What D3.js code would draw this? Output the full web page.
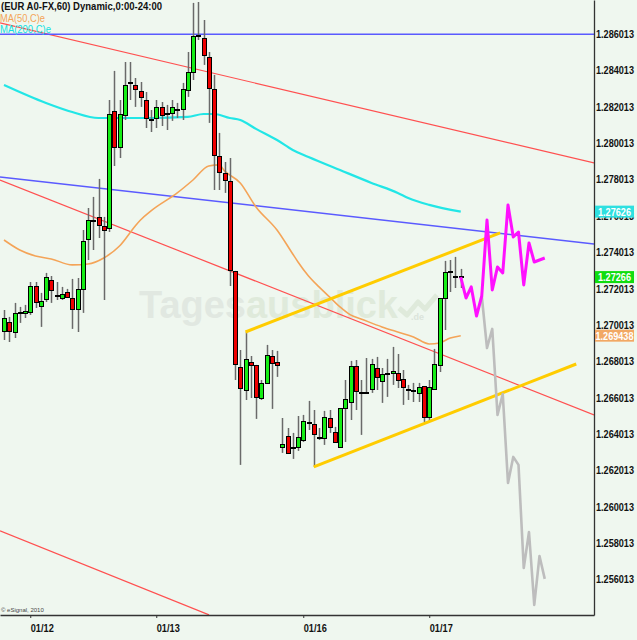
<!DOCTYPE html>
<html><head><meta charset="utf-8">
<script src="https://cdn.jsdelivr.net/npm/d3@7"></script>
<style>html,body{margin:0;padding:0;background:#eff7ef;}svg{display:block;}</style>
</head><body><div id="chart"></div>
<script>
// ---- data (hourly candles, index 0 = first visible bar) ----
const opens = [1.26970,1.27019,1.26964,1.27074,1.27069,1.27074,1.27217,1.27107,1.27146,1.27250,
1.27168,1.27151,1.27184,1.27151,1.27091,1.27201,1.27476,1.27580,1.27597,1.27547,
1.27536,1.28180,1.27982,1.28158,1.28339,1.28323,1.28290,1.28240,1.28138,1.28141,
1.28202,1.28169,1.28169,1.28191,1.28191,1.28295,1.28394,1.28598,1.28581,1.28477,
1.28301,1.27932,1.27839,1.27795,1.27300,1.26772,1.26645,1.26799,1.26783,1.26601,
1.26684,1.26832,1.26799,1.26332,1.26392,1.26332,1.26332,1.26370,1.26469,1.26458,
1.26387,1.26381,1.26491,1.26414,1.26332,1.26546,1.26579,1.26777,1.26634,1.26629,
1.26651,1.26766,1.26695,1.26739,1.26739,1.26739,1.26706,1.26651,1.26645,1.26629,
1.26667,1.26497,1.26651,1.26783,1.27151,1.27300,1.27272,1.27272];
const highs = [1.27085,1.27047,1.27124,1.27102,1.27113,1.27239,1.27239,1.27179,1.27289,1.27272,
1.27239,1.27212,1.27201,1.27256,1.27261,1.27525,1.27646,1.27707,1.27806,1.27597,
1.28240,1.28400,1.28240,1.28449,1.28449,1.28361,1.28339,1.28284,1.28185,1.28240,
1.28229,1.28213,1.28240,1.28224,1.28334,1.28504,1.28774,1.28779,1.28680,1.28504,
1.28378,1.28059,1.27899,1.27921,1.27300,1.26865,1.26964,1.26832,1.26783,1.26700,
1.26893,1.26865,1.26860,1.26491,1.26436,1.26409,1.26502,1.26508,1.26585,1.26535,
1.26436,1.26530,1.26535,1.26442,1.26546,1.26700,1.26805,1.26810,1.26700,1.26821,
1.26816,1.26827,1.26766,1.26816,1.26882,1.26843,1.26755,1.26673,1.26684,1.26684,
1.26667,1.26700,1.26871,1.27151,1.27355,1.27360,1.27377,1.27311];
const lows = [1.26920,1.26909,1.26931,1.27014,1.27041,1.27058,1.27096,1.26992,1.27129,1.27124,
1.27140,1.27140,1.27151,1.26981,1.26964,1.27069,1.27360,1.27415,1.27481,1.27140,
1.27514,1.27877,1.27921,1.28130,1.28240,1.28202,1.28202,1.28086,1.28064,1.28086,
1.28097,1.28075,1.28125,1.28141,1.28130,1.28257,1.28350,1.28570,1.28433,1.28114,
1.27745,1.27745,1.27729,1.27217,1.26700,1.26233,1.26590,1.26601,1.26486,1.26590,
1.26678,1.26541,1.26717,1.26299,1.26293,1.26266,1.26310,1.26359,1.26425,1.26222,
1.26370,1.26343,1.26409,1.26354,1.26326,1.26359,1.26480,1.26535,1.26398,1.26629,
1.26629,1.26645,1.26574,1.26607,1.26673,1.26656,1.26563,1.26590,1.26579,1.26579,
1.26469,1.26469,1.26645,1.26744,1.26975,1.27184,1.27206,1.27206];
const closes = [1.27041,1.26970,1.27069,1.27074,1.27080,1.27217,1.27129,1.27135,1.27267,1.27195,
1.27168,1.27173,1.27157,1.27091,1.27201,1.27465,1.27580,1.27580,1.27553,1.27525,
1.28163,1.27982,1.28163,1.28323,1.28339,1.28301,1.28257,1.28141,1.28138,1.28202,
1.28158,1.28169,1.28202,1.28191,1.28301,1.28394,1.28592,1.28598,1.28488,1.28306,
1.27938,1.27844,1.27800,1.27305,1.26788,1.26656,1.26816,1.26783,1.26607,1.26684,
1.26838,1.26794,1.26783,1.26348,1.26299,1.26332,1.26387,1.26475,1.26469,1.26403,
1.26387,1.26497,1.26442,1.26359,1.26546,1.26596,1.26777,1.26640,1.26634,1.26634,
1.26788,1.26717,1.26733,1.26739,1.26750,1.26700,1.26662,1.26651,1.26645,1.26662,
1.26497,1.26662,1.26788,1.27151,1.27294,1.27300,1.27267,1.27266];

// moving averages (sampled at bar indices)
const ma50Idx = [0,3,6,9,13,16,19,22,25,26,28,33,36,39,41,42,45,48,52,55,56,58,60,62,64,66,68,72,75,78,81,83,85,87];
const ma50Val = [1.27470,1.27415,1.27382,1.27366,1.27333,1.27338,1.27371,1.27437,1.27547,1.27580,1.27630,1.27729,1.27800,1.27877,1.27883,1.27850,1.27784,1.27652,1.27525,1.27393,1.27349,1.27272,1.27212,1.27157,1.27102,1.27058,1.27036,1.26992,1.26964,1.26937,1.26898,1.26904,1.26931,1.269438];
const ma200Idx = [0,8,13,18,23,28,35,38,40,43,45,48,52,55,58,64,70,75,77,81,87];
const ma200Val = [1.28323,1.28224,1.28174,1.28141,1.28141,1.28141,1.28147,1.28163,1.28163,1.28141,1.28130,1.28081,1.28020,1.27965,1.27927,1.27855,1.27784,1.27729,1.27701,1.27663,1.27626];

// forecast paths
const forecastUpStart = 87;
const forecastUp = [1.27266,1.27151,1.27212,1.27052,1.27162,1.27580,1.27195,1.27322,1.27289,1.27663,1.27487,1.27514,1.27223,1.27454,1.27349,1.27360,1.27371];
const forecastDownStart = 91;
const forecastDown = [1.27162,1.26876,1.26981,1.26508,1.26623,1.26134,1.26277,1.26233,1.25666,1.25864,1.25463,1.25732,1.25606];

// drawn lines [[index, price],[index, price]]
const blueLevel = [[-0.762,1.286013],[112.38,1.286013]];
const blueTrend = [[-0.762,1.27817],[112.38,1.27448]];
const redUpper = [[-0.762,1.28664],[112.38,1.27894]];
const redMiddle = [[-0.762,1.27800],[112.38,1.26508]];
const redLower = [[-0.762,1.25870],[39.05,1.25408]];
const yellowUpper = [[46,1.26964],[94.5,1.27509]];
const yellowLower = [[59,1.26222],[109,1.26788]];

// axes
const priceTicks = [1.256013,1.258013,1.260013,1.262013,1.264013,1.266013,1.268013,1.270013,1.272013,1.274013,1.276013,1.278013,1.280013,1.282013,1.284013,1.286013];
const dateIdx = [5,29,57,81];
const dateLabels = ["01/12","01/13","01/16","01/17"];
const lastMarkers = [1.27626, 1.27266, 1.269438];
const lastMarkerText = ["1.27626","1.27266","1.269438"];

// ---- drawing ----
const W = 637, H = 640, PW = 594, PH = 615;
const svg = d3.select('#chart').append('svg').attr('width', W).attr('height', H)
  .style('font-family', '"Liberation Sans", Arial, sans-serif');
svg.append('rect').attr('width', W).attr('height', H).attr('fill', '#eff7ef');

const x = d3.scaleLinear().domain([-0.762, 112.381]).range([0, PW]);
const y = d3.scaleLinear().domain([1.254075, 1.2879]).range([PH, 0]);

svg.append('clipPath').attr('id', 'plot').append('rect').attr('width', PW).attr('height', PH);
const g = svg.append('g').attr('clip-path', 'url(#plot)');

// watermark
const wm = g.append('text').attr('x', 139).attr('y', 318)
  .attr('font-size', 38).attr('font-weight', 'bold')
  .attr('textLength', 259).attr('lengthAdjust', 'spacingAndGlyphs');
wm.append('tspan').attr('fill', '#e1e8e1').text('Tages');
wm.append('tspan').attr('fill', '#dfeadb').text('ausblick');
g.append('polyline').attr('points', '399,308 407,315 418,302 425,309 437,295')
  .attr('fill', 'none').attr('stroke', '#dfeadb').attr('stroke-width', 5).attr('stroke-linejoin', 'round');
g.append('text').attr('x', 411).attr('y', 320).attr('font-size', 9).attr('font-weight', 'bold')
  .attr('fill', '#dbe4db').text('.de');

const seg = d3.line().x(d => x(d[0])).y(d => y(d[1]));
function drawLine(pts, color, w) {
  g.append('path').attr('d', seg(pts)).attr('fill', 'none').attr('stroke', color).attr('stroke-width', w);
}
drawLine(redUpper, '#ff5050', 1.2);
drawLine(redMiddle, '#ff5050', 1.2);
drawLine(redLower, '#ff5050', 1.2);
drawLine(blueLevel, '#5a5aff', 1.5);
drawLine(blueTrend, '#5a5aff', 1.5);

const maLine = d3.line().x(d => x(d[0])).y(d => y(d[1])).curve(d3.curveMonotoneX);
g.append('path').attr('d', maLine(ma200Idx.map((d, i) => [d, ma200Val[i]])))
  .attr('fill', 'none').attr('stroke', '#22e6e6').attr('stroke-width', 2.2);
g.append('path').attr('d', maLine(ma50Idx.map((d, i) => [d, ma50Val[i]])))
  .attr('fill', 'none').attr('stroke', '#f4a458').attr('stroke-width', 1.6);

// candles
const idx = d3.range(opens.length);
const cx = i => Math.round(x(i));
g.selectAll('line.wick').data(idx).join('line').attr('class', 'wick')
  .attr('x1', i => cx(i) + 0.5).attr('x2', i => cx(i) + 0.5)
  .attr('y1', i => y(highs[i])).attr('y2', i => y(lows[i]))
  .attr('stroke', '#6a6a6a').attr('stroke-width', 1.5);
g.selectAll('rect.body').data(idx).join('rect').attr('class', 'body')
  .attr('x', i => cx(i) - 1.5).attr('width', 4)
  .attr('y', i => Math.round(y(Math.max(opens[i], closes[i]))) + 0.5)
  .attr('height', i => Math.max(1, Math.round(Math.abs(y(opens[i]) - y(closes[i])))))
  .attr('fill', i => closes[i] > opens[i] ? '#16ee16' : (closes[i] < opens[i] ? '#ee0000' : '#000'))
  .attr('stroke', '#000').attr('stroke-width', 1);

// channel and forecasts
drawLine(yellowUpper, '#ffcc00', 3);
drawLine(yellowLower, '#ffcc00', 3);
const fl = d3.line().x(d => x(d[0])).y(d => y(d[1]));
g.append('path').attr('d', fl(forecastDown.map((v, i) => [forecastDownStart + i, v])))
  .attr('fill', 'none').attr('stroke', '#bdbdbd').attr('stroke-width', 2.6).attr('stroke-linejoin', 'round');
g.append('path').attr('d', fl(forecastUp.map((v, i) => [forecastUpStart + i, v])))
  .attr('fill', 'none').attr('stroke', '#ff10ff').attr('stroke-width', 3).attr('stroke-linejoin', 'round');

// right axis
const ra = svg.append('g').attr('transform', `translate(${PW},0)`)
  .call(d3.axisRight(y).tickValues(priceTicks).tickFormat(d3.format('.6f')).tickSize(0).tickSizeOuter(0).tickPadding(2));
ra.select('.domain').attr('stroke', '#333').attr('stroke-width', 1.3);
ra.selectAll('text').attr('font-size', 10).attr('font-weight', 'bold').attr('fill', '#111')
  .attr('font-family', '"Liberation Sans", Arial, sans-serif')
  .attr('textLength', 38).attr('lengthAdjust', 'spacingAndGlyphs');

// bottom axis
const ba = svg.append('g').attr('transform', `translate(0,${PH})`)
  .call(d3.axisBottom(x).tickValues(dateIdx).tickFormat((d, i) => dateLabels[i]).tickSize(3).tickSizeOuter(0).tickPadding(6));
ba.select('.domain').attr('stroke', '#333').attr('stroke-width', 1.3);
ba.selectAll('line').attr('stroke', '#333');
ba.selectAll('text').attr('font-size', 11).attr('font-weight', 'bold').attr('fill', '#111')
  .attr('text-anchor', 'start').attr('font-family', '"Liberation Sans", Arial, sans-serif')
  .attr('textLength', 23).attr('lengthAdjust', 'spacingAndGlyphs');

// last value markers
const markerFill = ['#2ee0e0', '#10dd10', '#f2a864'];
lastMarkers.forEach((v, i) => {
  const yy = y(v);
  svg.append('rect').attr('x', 595).attr('y', yy - 6).attr('width', 39).attr('height', 12).attr('fill', markerFill[i]);
  svg.append('text').attr('x', 614.5).attr('y', yy + 4).attr('text-anchor', 'middle')
    .attr('font-size', 10).attr('font-weight', 'bold').attr('fill', '#fff')
    .attr('textLength', i === 2 ? 38 : 33).attr('lengthAdjust', 'spacingAndGlyphs')
    .text(lastMarkerText[i]);
});

// header texts
svg.append('text').attr('x', 1).attr('y', 10).attr('font-size', 11).attr('font-weight', 'bold').attr('fill', '#111')
  .attr('textLength', 161).attr('lengthAdjust', 'spacingAndGlyphs').text('(EUR A0-FX,60) Dynamic,0:00-24:00');
svg.append('text').attr('x', 0).attr('y', 21.5).attr('font-size', 11).attr('fill', '#f4a458')
  .attr('textLength', 45).attr('lengthAdjust', 'spacingAndGlyphs').text('MA(50,C)e');
svg.append('text').attr('x', 0).attr('y', 33).attr('font-size', 11).attr('fill', '#10e0e0')
  .attr('textLength', 51).attr('lengthAdjust', 'spacingAndGlyphs').text('MA(200,C)e');
svg.append('text').attr('x', 1).attr('y', 612).attr('font-size', 6).attr('fill', '#444')
  .text('© eSignal, 2010');
</script></body></html>
